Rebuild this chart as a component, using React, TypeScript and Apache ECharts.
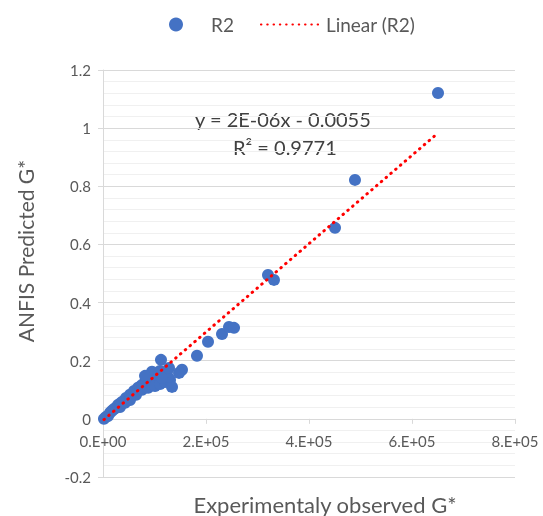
import React, { useEffect, useRef } from "react";
import * as echarts from "echarts";

const xObserved = [
  1900, 5800, 9700, 13600, 17500, 21400, 25200, 29100, 33000, 36900, 40800, 44700, 48500, 52400,
  56300, 60200, 64100, 68000, 71800, 75700, 79600, 83500, 87400, 91300, 95100, 99000, 102900,
  106800, 110700, 33000, 42700, 52400, 64100, 75700, 87400, 101000, 110700, 120400, 130100,
  134000, 126200, 114600, 95100, 81600, 112600, 128200, 153400, 147600, 182500, 203900, 231100,
  244700, 254400, 320400, 332000, 450500, 489300, 650500,
];
const yPredicted = [
  0.0, 0.007, 0.01, 0.021, 0.028, 0.034, 0.038, 0.048, 0.052, 0.058, 0.062, 0.072, 0.069, 0.083,
  0.086, 0.096, 0.096, 0.107, 0.11, 0.117, 0.12, 0.127, 0.131, 0.141, 0.144, 0.148, 0.155, 0.158,
  0.165, 0.041, 0.055, 0.065, 0.083, 0.1, 0.107, 0.113, 0.12, 0.127, 0.134, 0.11, 0.144, 0.141,
  0.162, 0.148, 0.203, 0.175, 0.169, 0.158, 0.217, 0.265, 0.292, 0.316, 0.313, 0.495, 0.478,
  0.657, 0.822, 1.121,
];
const trendSlope = 1.52e-6;
const trendIntercept = -0.0055;
const equationText = "y = 2E-06x - 0.0055";
const r2Text = "R² = 0.9771";
const seriesName = "R2";
const trendName = "Linear (R2)";
const xTitle = "Experimentaly observed G*";
const yTitle = "ANFIS Predicted G*";
const xTicks = [0, 200000, 400000, 600000, 800000];

const FONT = "Lato, 'Noto Sans', sans-serif";
const GREY = "#595959";

export default function App() {
  const ref = useRef<HTMLDivElement>(null);
  useEffect(() => {
    if (!ref.current) return;
    const chart = echarts.init(ref.current, undefined, { renderer: "svg" });
    const points = xObserved.map((x, i) => [x, yPredicted[i]]);
    const xMin = Math.min(...xObserved);
    const xMax = Math.max(...xObserved);
    const trend = [
      [xMin, trendSlope * xMin + trendIntercept],
      [xMax, trendSlope * xMax + trendIntercept],
    ];
    chart.setOption({
      animation: false,
      textStyle: { fontFamily: FONT },
      grid: { left: 103, right: 28, top: 70, bottom: 39, outerBoundsMode: "none", containLabel: false },
      legend: {
        left: 164,
        top: 10,
        itemWidth: 60,
        itemHeight: 14,
        itemGap: 26,
        itemTextGap: 10,
        textStyle: { fontSize: 19, color: GREY, fontFamily: FONT },
        data: [
          { name: seriesName, icon: "circle" },
          { name: trendName },
        ],
      },
      xAxis: {
        type: "value",
        min: xTicks[0],
        max: xTicks[xTicks.length - 1],
        interval: xTicks[1] - xTicks[0],
        axisLine: { onZero: true, lineStyle: { color: "#D9D9D9", width: 1 } },
        axisTick: { show: true, length: 5, lineStyle: { color: "#D9D9D9" } },
        axisLabel: {
          fontSize: 15,
          color: GREY,
          margin: -44,
          fontFamily: FONT,
          formatter: (v: number) => (v === 0 ? "0.E+00" : `${Math.round(v / 1e5)}.E+05`),
        },
        splitLine: { show: false },
      },
      yAxis: {
        type: "value",
        min: -0.2,
        max: 1.2,
        interval: 0.2,
        axisLine: { show: true, onZero: false, lineStyle: { color: "#D9D9D9", width: 1 } },
        axisTick: { show: true, length: 5, lineStyle: { color: "#D9D9D9" } },
        axisLabel: {
          fontSize: 15,
          color: GREY,
          margin: 12,
          fontFamily: FONT,
          formatter: (v: number) => String(Number(v.toFixed(2))),
        },
        splitLine: { show: true, lineStyle: { color: "#D9D9D9", width: 1 } },
        minorTick: { show: false, splitNumber: 5 },
        minorSplitLine: { show: true, lineStyle: { color: "#F0F0F0", width: 1 } },
      },
      series: [
        {
          name: seriesName,
          type: "scatter",
          data: points,
          symbol: "circle",
          symbolSize: 12,
          itemStyle: { color: "#4472C4", opacity: 1 },
          z: 2,
        },
        {
          name: trendName,
          type: "line",
          data: trend,
          symbol: "none",
          showSymbol: false,
          lineStyle: { color: "#FF0000", width: 3, type: [0.5, 5.8], cap: "round" },
          itemStyle: { color: "#FF0000", opacity: 0 },
          z: 3,
        },
      ],
      graphic: [
        {
          type: "text",
          left: 195,
          top: 109,
          style: { text: equationText, fill: "#404040", font: `20px ${FONT}` },
        },
        {
          type: "text",
          left: 233,
          top: 137,
          style: { text: r2Text, fill: "#404040", font: `20px ${FONT}` },
        },
        {
          type: "text",
          x: 325,
          y: 504,
          style: {
            text: xTitle,
            fill: GREY,
            font: `22px ${FONT}`,
            align: "center",
            verticalAlign: "middle",
          },
        },
        {
          type: "text",
          x: 25,
          y: 251,
          rotation: Math.PI / 2,
          style: {
            text: yTitle,
            fill: GREY,
            font: `21px ${FONT}`,
            align: "center",
            verticalAlign: "middle",
          },
        },
      ],
    });
    return () => chart.dispose();
  }, []);
  return (
    <div
      ref={ref}
      style={{ position: "fixed", left: 0, top: 0, width: 543, height: 516 }}
    />
  );
}
